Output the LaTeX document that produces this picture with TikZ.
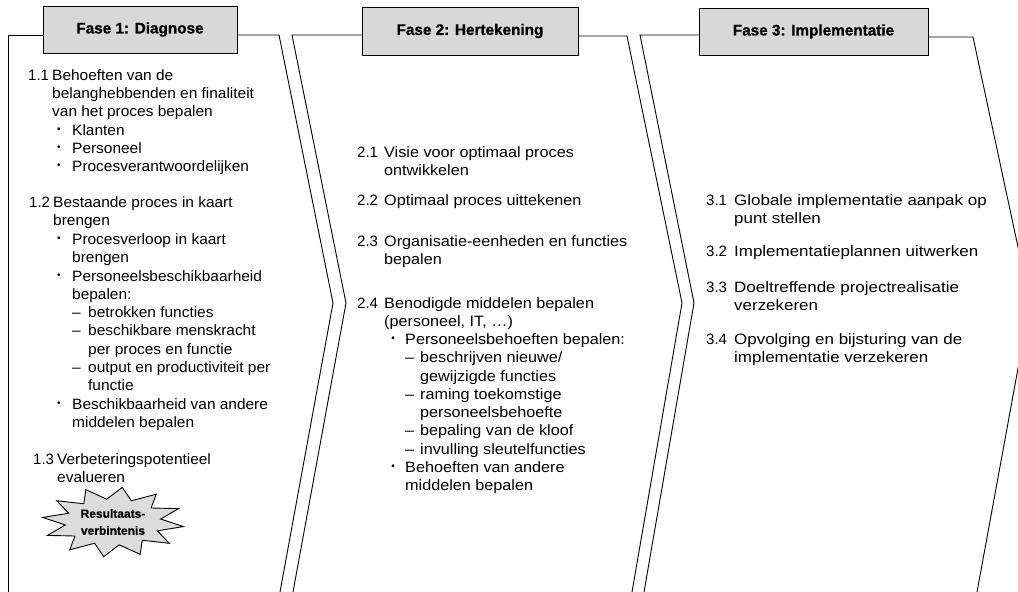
\documentclass[tikz,border=0pt]{standalone}
\usepackage{fontspec}
\setmainfont{Liberation Sans}
\usetikzlibrary{calc}
\definecolor{hdrgray}{HTML}{D8D8D8}
\definecolor{burstgray}{HTML}{DCDCDC}
\begin{document}
\begin{tikzpicture}[x=1pt,y=-1pt,
  edge/.style={line width=0.9pt, line join=miter},
  hdr/.style={draw, line width=1pt, fill=hdrgray, inner sep=0,
    font=\bfseries\fontsize{15.3}{17}\selectfont\addfontfeatures{FakeBold=1}},
  num/.style={anchor=base west, inner sep=0, font=\fontsize{15}{18}\selectfont},
  txt/.style={anchor=base west, inner sep=0, font=\fontsize{15}{18}\selectfont\addfontfeatures{FakeStretch=1.03}},
  txtb/.style={anchor=base west, inner sep=0, font=\fontsize{15}{18}\selectfont\addfontfeatures{FakeStretch=1.08}},
  txtc/.style={anchor=base west, inner sep=0, font=\fontsize{15}{18}\selectfont\addfontfeatures{FakeStretch=1.13}},
  bul/.style={anchor=center, inner sep=0, font=\fontsize{10}{10}\selectfont},
  burst/.style={line width=0.9pt, fill=burstgray, line join=miter},
  bursttxt/.style={align=center, inner sep=0,
    font=\bfseries\fontsize{12}{17}\selectfont\addfontfeatures{FakeBold=0.6}}]
\useasboundingbox (0,0) rectangle (1018,592);

% header boxes
\node[hdr, minimum width=194pt, minimum height=47pt] (h1) at (140,29.5) {Fase 1: Diagnose};
\node[hdr, minimum width=216pt, minimum height=48pt] (h2) at (470,31) {Fase 2: Hertekening};
\node[hdr, minimum width=229pt, minimum height=47pt] (h3) at (813.5,31.5) {Fase 3: Implementatie};

% chevron corner points
\coordinate (c1tl) at (8,35);    \coordinate (c1bl) at (8,592);
\coordinate (c1tr) at (279,35);  \coordinate (c1tip) at (333,303);   \coordinate (c1br) at (280,592);
\coordinate (c2tl) at (292,35);  \coordinate (c2notch) at (346,303); \coordinate (c2bl) at (293,592);
\coordinate (c2tr) at (627,36);  \coordinate (c2tip) at (682,303);   \coordinate (c2br) at (632,592);
\coordinate (c3tl) at (640,35);  \coordinate (c3notch) at (694,303); \coordinate (c3bl) at (644,592);
\coordinate (c3tr) at (973,37);  \coordinate (c3tip) at (1030,303);  \coordinate (c3br) at (977,592);

% chevrons
\draw[edge] (h1.west |- c1tl) -- (c1tl) -- (c1bl);
\draw[edge] (h1.east |- c1tr) -- (c1tr) -- (c1tip) -- (c1br);
\draw[edge] (h2.west |- c2tl) -- (c2tl) -- (c2notch) -- (c2bl);
\draw[edge] (h2.east |- c2tr) -- (c2tr) -- (c2tip) -- (c2br);
\draw[edge] (h3.west |- c3tl) -- (c3tl) -- (c3notch) -- (c3bl);
\draw[edge] (h3.east |- c3tr) -- (c3tr) -- (c3tip) -- (c3br);

% item numbers
\foreach \x/\y/\t [count=\i] in {
  28/75/1.1, 29/202/1.2, 33/459/1.3,
  357/152/2.1, 357/200/2.2, 357/241/2.3, 357/303/2.4,
  706/200/3.1, 706/251/3.2, 706/287/3.3, 706/339/3.4}
  \node[num] (n\i) at (\x,\y+5.3) {\t};

% column 1 text
\foreach \x/\y/\t [count=\i] in {
  52/75/Behoeften van de,
  52/93/belanghebbenden en finaliteit,
  52/111/van het proces bepalen,
  72/130/Klanten, 72/148/Personeel, 72/166/Procesverantwoordelijken,
  53/202/Bestaande proces in kaart,
  53/220/brengen,
  72/239/Procesverloop in kaart, 72/257/brengen,
  72/276/Personeelsbeschikbaarheid, 72/294/bepalen:,
  72/312/–, 88/312/betrokken functies,
  72/330/–, 88/330/beschikbare menskracht,
  88/349/per proces en functie,
  72/367/–, 88/367/output en productiviteit per,
  88/385/functie,
  72/404/Beschikbaarheid van andere, 72/422/middelen bepalen,
  57/459/Verbeteringspotentieel,
  57/477/evalueren}
  \node[txt] (a\i) at (\x,\y+5.3) {\t};
\foreach \y [count=\i] in {130,148,166,239,276,404}
  \node[bul] (ab\i) at (59,\y) {•};

% column 2 text
\foreach \x/\y/\t [count=\i] in {
  384/152/Visie voor optimaal proces,
  384/170/ontwikkelen,
  384/200/Optimaal proces uittekenen,
  384/241/Organisatie-eenheden en functies,
  384/259/bepalen,
  384/303/Benodigde middelen bepalen,
  384/321/{(personeel, IT, \ldots)},
  405/339/Personeelsbehoeften bepalen:,
  405/357/–, 420/357/{beschrijven nieuwe/},
  420/376/gewijzigde functies,
  405/394/–, 420/394/raming toekomstige,
  420/412/personeelsbehoefte,
  405/430/–, 420/430/bepaling van de kloof,
  405/449/–, 420/449/invulling sleutelfuncties,
  405/467/Behoeften van andere,
  405/485/middelen bepalen}
  \node[txtb] (b\i) at (\x,\y+5.3) {\t};
\foreach \y [count=\i] in {339,467}
  \node[bul] (bb\i) at (393,\y) {•};

% column 3 text
\foreach \x/\y/\t [count=\i] in {
  734/200/Globale implementatie aanpak op,
  734/218/punt stellen,
  734/251/Implementatieplannen uitwerken,
  734/287/Doeltreffende projectrealisatie,
  734/305/verzekeren,
  734/339/Opvolging en bijsturing van de,
  734/357/implementatie verzekeren}
  \node[txtc] (c\i) at (\x,\y+5.3) {\t};

% starburst
\coordinate (rvc) at (113,522);
\draw[burst, shift={(rvc)}] plot[samples at={0,...,23}, variable=\k]
  ({cos((\k+0.5)*15)*(mod(\k,2)==0 ? 71 : 48)},
   {sin((\k+0.5)*15)*(mod(\k,2)==0 ? 35 : 23)}) -- cycle;
\node[bursttxt] (rv) at (rvc) {Resultaats-\\verbintenis};
\end{tikzpicture}
\end{document}
